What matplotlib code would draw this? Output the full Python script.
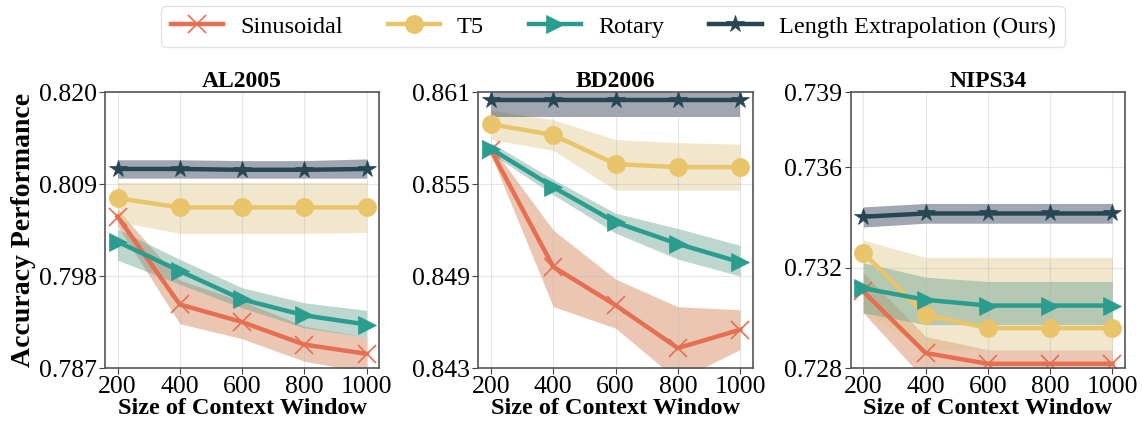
import matplotlib
matplotlib.use('Agg')
import matplotlib.pyplot as plt
import numpy as np

plt.rcParams['font.family'] = ['Liberation Serif', 'DejaVu Serif']

# context window sizes
windows = [200, 400, 600, 800, 1000]
methods = ['Sinusoidal', 'T5', 'Rotary', 'Length Extrapolation (Ours)']
colors = ['#E76F51', '#E9C46A', '#2A9D8F', '#264653']
band_colors = ['#CD7543', '#DEC582', '#5C9B89', '#12253E']
markers = ['x', 'o', '>', '*']

datasets = ['AL2005', 'BD2006', 'NIPS34']
ylims = [(0.787, 0.820), (0.843, 0.861), (0.728, 0.739)]
yticks = [[0.787, 0.798, 0.809, 0.820],
          [0.843, 0.849, 0.855, 0.861],
          [0.728, 0.732, 0.736, 0.739]]

# AL2005
al_sin = [0.8051, 0.7946, 0.7925, 0.7898, 0.7887]
al_sin_lo = [0.8040, 0.7923, 0.7905, 0.7878, 0.7865]
al_sin_hi = [0.8060, 0.7975, 0.7950, 0.7920, 0.7907]
al_t5 = [0.8073, 0.8062, 0.8062, 0.8062, 0.8062]
al_t5_lo = [0.8045, 0.8031, 0.8031, 0.8031, 0.8032]
al_t5_hi = [0.8092, 0.8092, 0.8092, 0.8092, 0.8092]
al_rot = [0.8021, 0.7986, 0.7952, 0.7933, 0.7922]
al_rot_lo = [0.7999, 0.7970, 0.7942, 0.7918, 0.7907]
al_rot_hi = [0.8036, 0.8000, 0.7966, 0.7948, 0.7939]
al_ours = [0.8108, 0.8108, 0.8107, 0.8107, 0.8108]
al_ours_lo = [0.8097, 0.8097, 0.8097, 0.8097, 0.8097]
al_ours_hi = [0.8119, 0.8119, 0.8118, 0.8118, 0.8120]

# BD2006
bd_sin = [0.8572, 0.8496, 0.8471, 0.8443, 0.8455]
bd_sin_lo = [0.8569, 0.8470, 0.8456, 0.8422, 0.8442]
bd_sin_hi = [0.8575, 0.8520, 0.8488, 0.8470, 0.8468]
bd_t5 = [0.8589, 0.8582, 0.8563, 0.8561, 0.8561]
bd_t5_lo = [0.8579, 0.8572, 0.8546, 0.8546, 0.8546]
bd_t5_hi = [0.8598, 0.8592, 0.8579, 0.8577, 0.8576]
bd_rot = [0.8573, 0.8548, 0.8525, 0.8511, 0.8499]
bd_rot_lo = [0.8570, 0.8543, 0.8518, 0.8501, 0.8490]
bd_rot_hi = [0.8577, 0.8553, 0.8531, 0.8521, 0.8510]
bd_ours = [0.8605, 0.8605, 0.8605, 0.8605, 0.8605]
bd_ours_lo = [0.8594, 0.8594, 0.8594, 0.8594, 0.8594]
bd_ours_hi = [0.8616, 0.8616, 0.8616, 0.8616, 0.8616]

# NIPS34
np_sin = [0.73105, 0.72860, 0.72817, 0.72817, 0.72817]
np_sin_lo = [0.7302, 0.7275, 0.7275, 0.7275, 0.7275]
np_sin_hi = [0.7318, 0.72926, 0.72873, 0.72873, 0.72873]
np_t5 = [0.73260, 0.73012, 0.72959, 0.72959, 0.72959]
np_t5_lo = [0.7302, 0.72873, 0.72873, 0.72873, 0.72873]
np_t5_hi = [0.7331, 0.73241, 0.73241, 0.73241, 0.73241]
np_rot = [0.73118, 0.73072, 0.73049, 0.73049, 0.73049]
np_rot_lo = [0.7302, 0.72973, 0.72973, 0.72973, 0.72973]
np_rot_hi = [0.7322, 0.73162, 0.73145, 0.73145, 0.73145]
np_ours = [0.73403, 0.73416, 0.73416, 0.73416, 0.73416]
np_ours_lo = [0.73362, 0.73377, 0.73377, 0.73377, 0.73377]
np_ours_hi = [0.73442, 0.73456, 0.73456, 0.73456, 0.73456]

all_data = [
    [(al_sin, al_sin_lo, al_sin_hi), (al_t5, al_t5_lo, al_t5_hi),
     (al_rot, al_rot_lo, al_rot_hi), (al_ours, al_ours_lo, al_ours_hi)],
    [(bd_sin, bd_sin_lo, bd_sin_hi), (bd_t5, bd_t5_lo, bd_t5_hi),
     (bd_rot, bd_rot_lo, bd_rot_hi), (bd_ours, bd_ours_lo, bd_ours_hi)],
    [(np_sin, np_sin_lo, np_sin_hi), (np_t5, np_t5_lo, np_t5_hi),
     (np_rot, np_rot_lo, np_rot_hi), (np_ours, np_ours_lo, np_ours_hi)],
]

fig = plt.figure(figsize=(11.42, 4.24), dpi=100)
lefts = [0.092, 0.419, 0.745]
axes = [fig.add_axes([l, 0.132, 0.240, 0.651]) for l in lefts]

for ax, name, (y0, y1), yt, data in zip(axes, datasets, ylims, yticks, all_data):
    for (mean, lo, hi), c, bc, m, lab in zip(data, colors, band_colors, markers, methods):
        ax.fill_between(windows, lo, hi, color=bc, alpha=0.4, linewidth=0)
        ax.plot(windows, mean, color=c, marker=m, markersize=13, linewidth=3.2,
                label=lab, markeredgewidth=1.2 if m == 'x' else 0.5)
    ax.set_ylim(y0, y1)
    ax.set_xlim(160, 1040)
    ax.set_xticks(windows)
    ax.set_yticks(yt)
    ax.yaxis.set_major_formatter(matplotlib.ticker.FormatStrFormatter('%.3f'))
    ax.tick_params(labelsize=18.5, length=4, color='#444444', pad=2)
    ax.grid(alpha=0.3)
    for s in ax.spines.values():
        s.set_color('#555555')
        s.set_linewidth(1.2)
    ax.set_title(name, fontsize=17, fontweight='bold', pad=3)
    ax.set_xlabel('Size of Context Window', fontsize=17.5, fontweight='bold', labelpad=0)

axes[0].set_ylabel('Accuracy Performance', fontsize=20, fontweight='bold', labelpad=2)

handles, labels = axes[0].get_legend_handles_labels()
fig.legend(handles, labels, loc='upper center', ncol=4, fontsize=17.5,
           bbox_to_anchor=(0.537, 1.015), handlelength=2.15, handletextpad=0.7,
           columnspacing=1.85, frameon=True, edgecolor='#dddddd', fancybox=True)

plt.savefig('out.png', dpi=100)
plt.close()
